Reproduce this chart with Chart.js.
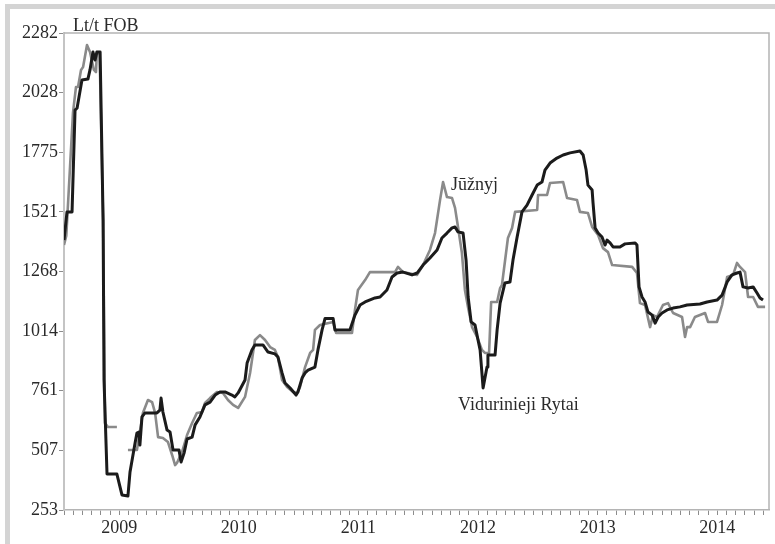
<!DOCTYPE html>
<html>
<head>
<meta charset="utf-8">
<script src="https://cdn.jsdelivr.net/npm/chart.js@4.4.1/dist/chart.umd.min.js"></script>
<style>
  html, body { margin: 0; padding: 0; background: #fff; }
  #wrap { position: relative; width: 775px; height: 544px; overflow: hidden; }
  #frame { position: absolute; left: 5px; top: 4px; width: 800px; height: 600px;
           border-top: 5px solid #d4d4d4; border-left: 5px solid #d4d4d4; }
  canvas { position: absolute; left: 0; top: 0; }
</style>
</head>
<body>
<div id="wrap">
  <div id="frame"></div>
  <canvas id="c" width="775" height="544"></canvas>
</div>
<script>
// x = week index since the start of the series (52 weeks per year)
const yearLabels = ["2009", "2010", "2011", "2012", "2013", "2014"];
const yearStartWeeks = [24, 76, 128, 180, 232, 284];
const yTickValues = [253, 507, 761, 1014, 1268, 1521, 1775, 2028, 2282];

// Vidurinieji Rytai (black)
const blackWeeks = [0,1.3,3.5,4.8,5.7,7.8,10.4,11.3,12.6,13.5,
  14.3,15.7,17,17.4,18.7,23,25.2,27.8,28.7,30.9,
  31.7,32.6,33,33.9,35.2,40.4,41.7,42.2,43,44.8,
  46.1,47.4,50,50.9,52.2,53.5,55.7,57,59.1,61.3,
  63.5,65.7,67.8,70,73,74.3,75.7,78.7,79.6,81.7,
  83,86.5,88.7,91.7,93,94.8,96.1,98.3,100.9,101.7,
  103.5,104.8,106.1,109.1,110.4,112.2,113.5,117,117.8,124.3,
  126.5,128.7,130.9,135.2,137.4,140.4,142.6,144.8,147.4,151.3,
  153.5,156.1,159.1,162.2,164.3,166.5,168.7,170,171.3,173.5,
  174.8,175.7,177,178.7,180,180.9,182.2,183.9,184.3,187.4,
  188.3,189.6,191.7,193.9,195.2,197,199.1,201.3,203.5,205.7,
  207.8,209.1,211.3,214.3,217,220,224.3,225.7,227,227.8,
  229.6,230,230.9,232.2,233.9,235.2,236.1,237.4,238.7,241.7,
  243.9,248.3,249.1,250,251.3,252.6,253.9,255.7,257,258.3,
  260,262.2,264.8,267.8,270.9,276.5,279.6,283.9,286.1,288.3,
  290.4,292.6,293.9,295.2,297.4,299.6,301.3,302.6,303.9];
const blackValues = [1401,1521,1521,1954,1963,2082,2086,2125,2201,2167,
  2201,2201,1487,806,406,406,317,313,415,538,
  580,585,529,649,666,666,678,729,670,593,
  585,508,508,457,495,555,563,615,649,700,
  712,742,755,755,742,734,751,806,878,934,
  955,955,925,917,904,836,793,772,742,755,
  814,836,848,861,934,1019,1068,1068,1019,1019,
  1082,1125,1138,1155,1159,1189,1244,1261,1265,1253,
  1261,1295,1325,1359,1410,1431,1453,1457,1436,1431,
  1316,1159,1053,1040,976,934,772,861,912,912,
  1019,1133,1219,1223,1316,1414,1521,1550,1593,1635,
  1648,1699,1729,1750,1763,1772,1780,1763,1699,1635,
  1614,1559,1453,1431,1414,1380,1401,1389,1372,1372,
  1385,1389,1380,1202,1159,1138,1095,1082,1048,1074,
  1091,1104,1112,1117,1125,1129,1138,1146,1167,1223,
  1253,1261,1265,1202,1197,1202,1176,1155,1146];

// Južnyj (grey)
const greyWeeks = [0,1,3.9,5.2,6.1,7.4,8.3,10,10.4,11.3,
  13,13.9,14.3,15.5,17,17.8,19.1,23,25,27.8,
  31.7,34.3,36.5,38.3,39.6,40.9,43,45.2,47,48.3,
  49.1,51.3,53.5,55.7,57.8,60,61.3,63.5,66.5,69.1,
  71.3,73.5,75.7,78.7,80.9,83,85.2,87.4,89.6,91.7,
  93,94.8,97,99.6,101.3,102.6,104.8,107,108.3,109.1,
  111.3,117,118.3,125.2,126.5,127.8,130.9,133,143.9,145.2,
  147.4,153.5,156.1,159.1,161.3,163.5,164.8,166.5,168.7,170,
  171.3,173,174.3,175.7,177.4,179.6,181.7,183,184.8,185.7,
  188.3,189.6,190.4,193,194.8,196.1,205.7,206.1,210,211.3,
  217,218.7,223,224.3,227.8,229.6,232.2,234.3,236.5,238.3,
  247,249.1,250.4,252.6,254.8,256.1,257.8,260.4,262.6,264.8,
  268.7,270,270.9,272.2,274.3,278.7,280,283.9,286.1,288.3,
  290.9,292.6,293.9,296.1,297.4,299.6,301.7,304.8];
const greyValues = [1380,1420,1942,2052,2052,2125,2137,2231,2231,2201,
  2125,2116,2201,2190,1487,623,606,606,null,508,
  508,666,721,712,666,563,559,542,487,444,
  453,499,572,623,666,670,708,729,755,751,
  721,700,687,734,836,976,997,976,946,934,
  904,806,776,755,751,776,861,921,934,1019,
  1040,1053,1006,1006,1104,1189,1231,1265,1265,1287,
  1265,1253,1295,1359,1431,1572,1648,1584,1580,1538,
  1457,1346,1189,1112,1031,989,934,921,921,1138,
  1138,1197,1210,1410,1453,1521,1529,1593,1593,1644,
  1648,1580,1572,1521,1516,1457,1423,1367,1350,1295,
  1287,1261,1133,1125,1031,1082,1074,1125,1133,1091,
  1074,989,1031,1031,1074,1091,1053,1053,1125,1244,
  1253,1304,1287,1265,1159,1159,1117,1117];

const unitLabel = "Lt/t FOB";
const greyName = "Jūžnyj";
const blackName = "Vidurinieji Rytai";

const FONT = "'Liberation Serif', 'Times New Roman', serif";
const toPts = (xs, ys) => xs.map((x, i) => ({ x: x, y: ys[i] }));

const frameAndText = {
  id: 'frameAndText',
  beforeDatasetsDraw(chart) {
    const { ctx, chartArea: a } = chart;
    ctx.save();
    ctx.strokeStyle = '#b4b4b4';
    ctx.lineWidth = 1.5;
    ctx.beginPath();
    ctx.moveTo(a.left, a.top);
    ctx.lineTo(a.right, a.top);
    ctx.lineTo(a.right, a.bottom);
    ctx.stroke();
    ctx.restore();
  },
  afterDatasetsDraw(chart) {
    const { ctx, chartArea: a, scales } = chart;
    ctx.save();
    ctx.fillStyle = '#2a2a2a';
    ctx.font = '18px ' + FONT;
    ctx.textBaseline = 'alphabetic';
    ctx.textAlign = 'left';
    ctx.fillText(unitLabel, a.left + 9, a.top - 2);
    ctx.textBaseline = 'middle';
    // label beside the grey peak
    const gx = scales.x.getPixelForValue(164.8), gy = scales.y.getPixelForValue(1648);
    ctx.fillText(greyName, gx + 8, gy + 3);
    // label below the black trough
    const bx = scales.x.getPixelForValue(182.2), by = scales.y.getPixelForValue(772);
    ctx.fillText(blackName, bx - 25, by + 17);
    ctx.restore();
  }
};

new Chart(document.getElementById('c'), {
  type: 'line',
  data: {
    datasets: [
      { label: blackName, data: toPts(blackWeeks, blackValues), borderColor: '#1b1b1b',
        borderWidth: 3, pointRadius: 0, tension: 0, spanGaps: false, borderJoinStyle: 'round' },
      { label: greyName, data: toPts(greyWeeks, greyValues), borderColor: '#8a8a8a',
        borderWidth: 2.6, pointRadius: 0, tension: 0, spanGaps: false, borderJoinStyle: 'round' }
    ]
  },
  options: {
    responsive: false,
    animation: false,
    layout: { padding: { top: 33, right: 6, left: 0, bottom: 0 } },
    plugins: { legend: { display: false }, tooltip: { enabled: false } },
    scales: {
      x: {
        type: 'linear',
        min: 0,
        max: 306.5,
        afterBuildTicks(scale) {
          const t = [];
          for (let w = 0; w <= 304; w += 4) t.push({ value: w });
          scale.ticks = t;
        },
        afterFit(scale) { scale.height = 34; },
        ticks: {
          autoSkip: false,
          maxRotation: 0,
          padding: 2,
          color: '#2a2a2a',
          font: { family: FONT, size: 18 },
          callback(v) {
            const i = yearStartWeeks.indexOf(v);
            return i >= 0 ? yearLabels[i] : '';
          }
        },
        grid: { drawOnChartArea: false, drawTicks: true, tickLength: 5, color: '#8c8c8c', lineWidth: 1 },
        border: { display: true, color: '#b4b4b4', width: 1.5 }
      },
      y: {
        min: 253,
        max: 2282,
        afterBuildTicks(scale) { scale.ticks = yTickValues.map(v => ({ value: v })); },
        afterFit(scale) { scale.width = 64; },
        ticks: {
          padding: 1,
          color: '#2a2a2a',
          font: { family: FONT, size: 18 },
          callback(v) { return String(v); }
        },
        grid: { drawOnChartArea: false, drawTicks: true, tickLength: 5, color: '#8c8c8c', lineWidth: 1 },
        border: { display: true, color: '#c4c4c4', width: 2 }
      }
    }
  },
  plugins: [frameAndText]
});
</script>
</body>
</html>
